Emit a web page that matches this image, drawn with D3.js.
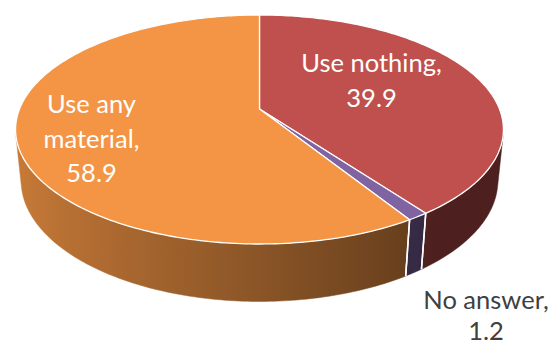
<!DOCTYPE html>
<html><head><meta charset="utf-8">
<script src="https://cdn.jsdelivr.net/npm/d3@7"></script>
<style>html,body{margin:0;padding:0;background:#fff;} svg{display:block}</style>
</head><body><svg id="c" width="553" height="346"></svg>
<script>
// ---- data ----
const categories = ["Use nothing", "No answer", "Use any material"];
const values = [39.9, 1.2, 58.9];
const colors = ["#C0504D", "#8064A2", "#F39544"];
// label lines (category + value)
const labelLines = [["Use nothing,", "39.9"], ["No answer,", "1.2"], ["Use any", "material,", "58.9"]];
const labelColors = ["#ffffff", "#404040", "#ffffff"];

// ---- layout ----
const svg = d3.select("#c");
const cx = 259.5, cy = 109, k = 240, D = 4.956, h = 0.242;
const sa = 0.4618, ca = Math.sqrt(1 - sa * sa);
const labelPos = [[371.5, 71.5], [486, 309], [91.5, 113.4]];
const lineGap = [35.2, 30.5, 34.3];

function proj(theta, y) {
  const x = Math.sin(theta), z = -Math.cos(theta);
  const v = z * sa - y * ca;
  const w = z * ca + y * sa;
  const s = D / (D - w);
  return [cx + k * x * s, cy + k * v * s];
}
function projC(y) {
  const v = -y * ca, w = y * sa, s = D / (D - w);
  return [cx, cy + k * v * s];
}

const pie = d3.pie().sort(null).value(d => d);
const arcs = pie(values);

const visA = Math.acos(-1 / (D * ca));
const visB = 2 * Math.PI - visA;
const shade = d3.scaleLinear().domain([-1, 1]).range([0.835, 0.30]);
function shadeAt(theta) { return Math.max(0.4, shade(Math.sin(theta))); }
function darken(col, f) {
  const c = d3.rgb(col);
  return d3.rgb(c.r * f, c.g * f, c.b * f).formatHex();
}
const defs = svg.append("defs");
const N = 120;

// ---- side walls ----
arcs.forEach((a, i) => {
  const t0 = Math.max(a.startAngle, visA), t1 = Math.min(a.endAngle, visB);
  if (t0 >= t1) return;
  const top = d3.range(N + 1).map(j => proj(t0 + (t1 - t0) * j / N, 0));
  const bot = d3.range(N + 1).map(j => proj(t1 - (t1 - t0) * j / N, -h));
  const xs = top.map(p => p[0]);
  const x0 = d3.min(xs), x1 = d3.max(xs);
  const gid = "g" + i;
  const g = defs.append("linearGradient").attr("id", gid)
    .attr("gradientUnits", "userSpaceOnUse")
    .attr("x1", x0).attr("x2", x1).attr("y1", 0).attr("y2", 0);
  const stops = d3.range(21).map(j => {
    const t = t0 + (t1 - t0) * j / 20;
    const px = proj(t, 0)[0];
    return { off: x1 > x0 ? (px - x0) / (x1 - x0) : 0, col: darken(colors[i], shadeAt(t)) };
  }).sort((p, q) => p.off - q.off);
  stops.forEach(s => g.append("stop").attr("offset", s.off).attr("stop-color", s.col));
  svg.append("path")
    .attr("d", d3.line()(top.concat(bot)) + "Z")
    .attr("fill", `url(#${gid})`)
    .attr("stroke", `url(#${gid})`).attr("stroke-width", 0.5);
});
// separators on walls
arcs.forEach(a => {
  [a.startAngle, a.endAngle].forEach(t => {
    if (t > visA && t < visB) {
      const p = proj(t, 0), q = proj(t, -h);
      svg.append("line").attr("x1", p[0]).attr("y1", p[1]).attr("x2", q[0]).attr("y2", q[1])
        .attr("stroke", "#fff").attr("stroke-width", 1.5);
    }
  });
});

// ---- top faces ----
arcs.forEach((a, i) => {
  const n = Math.max(4, Math.ceil((a.endAngle - a.startAngle) / (2 * Math.PI) * 360));
  const pts = [projC(0)].concat(d3.range(n + 1).map(j => proj(a.startAngle + (a.endAngle - a.startAngle) * j / n, 0)));
  svg.append("path")
    .attr("d", d3.line()(pts) + "Z")
    .attr("fill", colors[i])
    .attr("stroke", "#fff").attr("stroke-width", 1.3).attr("stroke-linejoin", "round");
});

// ---- labels ----
arcs.forEach((a, i) => {
  const t = svg.append("text")
    .attr("text-anchor", "middle")
    .attr("font-family", "Lato, 'Open Sans', sans-serif")
    .attr("font-size", 25.5)
    .attr("fill", labelColors[i]);
  labelLines[i].forEach((ln, j) => {
    t.append("tspan").attr("x", labelPos[i][0]).attr("y", labelPos[i][1] + j * lineGap[i]).text(ln);
  });
});
</script></body></html>
